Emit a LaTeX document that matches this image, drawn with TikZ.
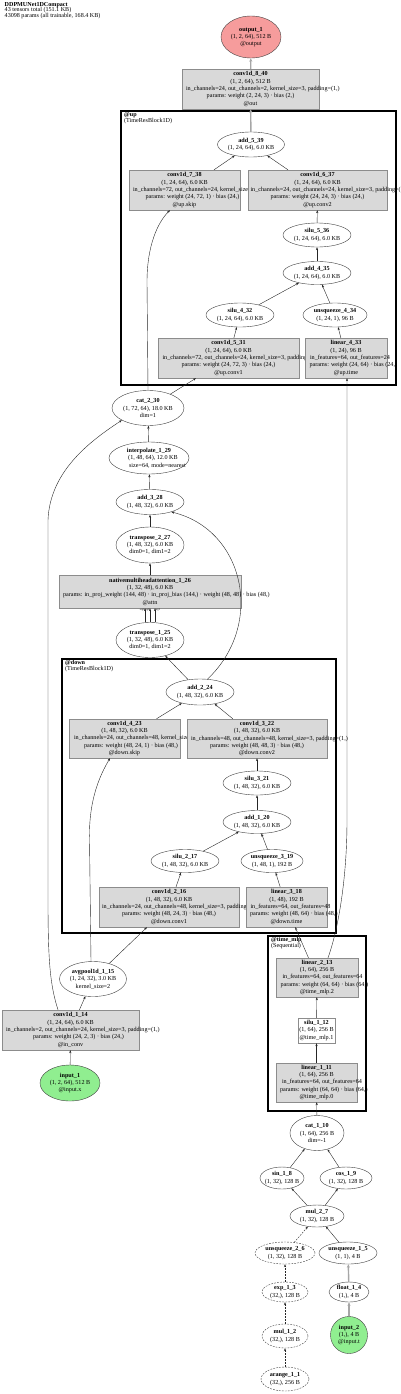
\documentclass[tikz,border=0pt]{standalone}
\usepackage{fontspec}
\setmainfont{Liberation Serif}
\usetikzlibrary{shapes.geometric,arrows.meta}
\newcommand\nf{\fontsize{6.15}{7.35}\selectfont}
\newcommand\hf{\fontsize{6.1}{5.7}\selectfont}
\newcommand\af{\fontsize{2.6}{3}\selectfont}
% line starting at a given offset from the node centre
\newcommand\lnstart[2]{\makebox[0pt][l]{\hspace*{#1pt}#2}}
% line centred at a given offset from the node centre
\newcommand\lnshift[2]{\makebox[0pt][c]{\hspace*{#1pt}\hspace*{#1pt}#2}}
\begin{document}
\begin{tikzpicture}[x=1pt,y=-1pt,
  ell/.style={ellipse, draw=black!75, line width=0.4pt, fill=white, inner sep=0pt},
  dell/.style={ell, dash pattern=on 1.8pt off 1.2pt},
  box/.style={rectangle, draw=black!45, line width=0.4pt, fill=black!15, inner sep=0pt},
  wbox/.style={box, fill=white},
  txt/.style={font=\nf, align=center, inner sep=0pt},
  arr/.style={-{Stealth[length=3pt,width=2.2pt]}, line width=0.4pt, draw=black!85},
  darr/.style={arr, dash pattern=on 1.8pt off 1.2pt},
  garr/.style={-{Stealth[length=3.5pt,width=3pt]}, line width=1.4pt, draw=black!35},
  clu/.style={draw=black, line width=1.8pt},
  clab/.style={txt, font=\hf, anchor=north west, align=left}]
\useasboundingbox (0,0) rectangle (400,1394);

% header
\node[clab] (hdr) at (4.5,2) {\textbf{DDPMUNet1DCompact}\\43 tensors total (151.1 KB)\\43098 params (all trainable, 168.4 KB)};

% clusters
\draw[clu] (121,111) rectangle (396,385);
\node[clab] (lup) at (124,112.5) {\textbf{@up}\\(TimeResBlock1D)};
\draw[clu] (62,659) rectangle (336,933);
\node[clab] (ldown) at (65,660.5) {\textbf{@down}\\(TimeResBlock1D)};
\draw[clu] (268,936) rectangle (366,1111);
\node[clab] (ltime) at (271,937.5) {\textbf{@time\_mlp}\\(Sequential)};

% ---- top
\node[ell, fill={rgb,255:red,246;green,156;blue,156}, minimum width=60pt, minimum height=42pt] (out) at (251,37) {};
\node[txt] at (out) {\textbf{output\_1}\\(1, 2, 64), 512 B\\@output};
\node[box, minimum width=137pt, minimum height=40pt] (conv8) at (250.5,89) {};
\node[txt] at (conv8) {\textbf{conv1d\_8\_40}\\(1, 2, 64), 512 B\\\lnstart{-64.5}{in\_channels=24, out\_channels=2, kernel\_size=3, padding=(1,)}\\params: weight (2, 24, 3) · bias (2,)\\@out};

% ---- up block
\node[ell, minimum width=67pt, minimum height=25pt] (add5) at (251,144.5) {};
\node[txt] at (add5) {\textbf{add\_5\_39}\\(1, 24, 64), 6.0 KB};
\node[box, minimum width=111pt, minimum height=40pt] (conv7) at (184.5,190) {};
\node[txt] at (conv7) {\textbf{conv1d\_7\_38}\\(1, 24, 64), 6.0 KB\\\lnstart{-51.5}{in\_channels=72, out\_channels=24, kernel\_size=1}\\\lnshift{8}{params: weight (24, 72, 1) · bias (24,)}\\@up.skip};
\node[box, minimum width=139pt, minimum height=40pt] (conv6) at (317.5,190) {};
\node[txt] at (conv6) {\textbf{conv1d\_6\_37}\\(1, 24, 64), 6.0 KB\\\lnstart{-67}{in\_channels=24, out\_channels=24, kernel\_size=3, padding=(1,)}\\params: weight (24, 24, 3) · bias (24,)\\@up.conv2};
\node[ell, minimum width=68pt, minimum height=24pt] (silu5) at (317,235) {};
\node[txt] at (silu5) {\textbf{silu\_5\_36}\\(1, 24, 64), 6.0 KB};
\node[ell, minimum width=68pt, minimum height=23pt] (add4) at (317,273) {};
\node[txt] at (add4) {\textbf{add\_4\_35}\\(1, 24, 64), 6.0 KB};
\node[ell, minimum width=68pt, minimum height=24pt] (silu4) at (240,315) {};
\node[txt] at (silu4) {\textbf{silu\_4\_32}\\(1, 24, 64), 6.0 KB};
\node[ell, minimum width=64pt, minimum height=24pt] (unsq4) at (335,315) {};
\node[txt] at (unsq4) {\textbf{unsqueeze\_4\_34}\\(1, 24, 1), 96 B};
\node[box, minimum width=141pt, minimum height=40pt] (conv5) at (228.5,358) {};
\node[txt] at (conv5) {\textbf{conv1d\_5\_31}\\(1, 24, 64), 6.0 KB\\\lnstart{-66}{in\_channels=72, out\_channels=24, kernel\_size=3, padding=(1,)}\\params: weight (24, 72, 3) · bias (24,)\\@up.conv1};
\node[box, minimum width=82pt, minimum height=40pt] (lin4) at (346,358) {};
\node[txt] at (lin4) {\textbf{linear\_4\_33}\\(1, 24), 96 B\\\lnstart{-36}{in\_features=64, out\_features=24}\\\lnstart{-36.5}{params: weight (24, 64) · bias (24,)}\\@up.time};

% ---- middle column
\node[ell, minimum width=72pt, minimum height=35pt] (cat2) at (148,408) {};
\node[txt] at (cat2) {\textbf{cat\_2\_30}\\(1, 72, 64), 18.0 KB\\dim=1};
\node[ell, minimum width=80pt, minimum height=32pt] (interp) at (149,458) {};
\node[txt] at (interp) {\textbf{interpolate\_1\_29}\\\lnshift{4}{(1, 48, 64), 12.0 KB}\\\lnstart{-20}{size=64, mode=nearest}};
\node[ell, minimum width=68pt, minimum height=25pt] (add3) at (150,502) {};
\node[txt] at (add3) {\textbf{add\_3\_28}\\(1, 48, 32), 6.0 KB};
\node[ell, minimum width=68pt, minimum height=36pt] (tr2) at (150,545) {};
\node[txt] at (tr2) {\textbf{transpose\_2\_27}\\(1, 48, 32), 6.0 KB\\dim0=1, dim1=2};
\node[box, minimum width=182pt, minimum height=33pt] (attn) at (150,591.5) {};
\node[txt] at (attn) {\textbf{nativemultiheadattention\_1\_26}\\(1, 32, 48), 6.0 KB\\\lnstart{-87}{params: in\_proj\_weight (144, 48) · in\_proj\_bias (144,) · weight (48, 48) · bias (48,)}\\@attn};
\node[ell, minimum width=68pt, minimum height=35pt] (tr1) at (150,640) {};
\node[txt] at (tr1) {\textbf{transpose\_1\_25}\\(1, 32, 48), 6.0 KB\\dim0=1, dim1=2};

% ---- down block
\node[ell, minimum width=68pt, minimum height=26pt] (add2) at (200,692) {};
\node[txt] at (add2) {\textbf{add\_2\_24}\\(1, 48, 32), 6.0 KB};
\node[box, minimum width=111pt, minimum height=39pt] (conv4) at (124.5,738.5) {};
\node[txt] at (conv4) {\textbf{conv1d\_4\_23}\\(1, 48, 32), 6.0 KB\\\lnstart{-50.5}{in\_channels=24, out\_channels=48, kernel\_size=1}\\\lnshift{6.5}{params: weight (48, 24, 1) · bias (48,)}\\@down.skip};
\node[box, minimum width=140pt, minimum height=39pt] (conv3) at (257,738.5) {};
\node[txt] at (conv3) {\textbf{conv1d\_3\_22}\\(1, 48, 32), 6.0 KB\\\lnstart{-66}{in\_channels=48, out\_channels=48, kernel\_size=3, padding=(1,)}\\params: weight (48, 48, 3) · bias (48,)\\@down.conv2};
\node[ell, minimum width=68pt, minimum height=24pt] (silu3) at (257,783) {};
\node[txt] at (silu3) {\textbf{silu\_3\_21}\\(1, 48, 32), 6.0 KB};
\node[ell, minimum width=68pt, minimum height=23pt] (add1) at (257,822) {};
\node[txt] at (add1) {\textbf{add\_1\_20}\\(1, 48, 32), 6.0 KB};
\node[ell, minimum width=68pt, minimum height=23pt] (silu2) at (185,861) {};
\node[txt] at (silu2) {\textbf{silu\_2\_17}\\(1, 48, 32), 6.0 KB};
\node[ell, minimum width=62pt, minimum height=23pt] (unsq3) at (272,861) {};
\node[txt] at (unsq3) {\textbf{unsqueeze\_3\_19}\\(1, 48, 1), 192 B};
\node[box, minimum width=140pt, minimum height=40pt] (conv2) at (169,907) {};
\node[txt] at (conv2) {\textbf{conv1d\_2\_16}\\(1, 48, 32), 6.0 KB\\\lnstart{-67}{in\_channels=24, out\_channels=48, kernel\_size=3, padding=(1,)}\\params: weight (48, 24, 3) · bias (48,)\\@down.conv1};
\node[box, minimum width=81pt, minimum height=40pt] (lin3) at (286.5,907) {};
\node[txt] at (lin3) {\textbf{linear\_3\_18}\\(1, 48), 192 B\\\lnstart{-36}{in\_features=64, out\_features=48}\\\lnstart{-36.5}{params: weight (48, 64) · bias (48,)}\\@down.time};

% ---- input x side
\node[ell, minimum width=67pt, minimum height=35pt] (pool) at (93,979) {};
\node[txt] at (pool) {\textbf{avgpool1d\_1\_15}\\(1, 24, 32), 3.0 KB\\kernel\_size=2};
\node[box, minimum width=137pt, minimum height=40pt] (conv1) at (70.5,1030) {};
\node[txt] at (conv1) {\textbf{conv1d\_1\_14}\\(1, 24, 64), 6.0 KB\\\lnstart{-64.5}{in\_channels=2, out\_channels=24, kernel\_size=3, padding=(1,)}\\\lnshift{8}{params: weight (24, 2, 3) · bias (24,)}\\@in\_conv};
\node[ell, fill={rgb,255:red,144;green,238;blue,144}, minimum width=60pt, minimum height=36pt] (in1) at (70,1083) {};
\node[txt] at (in1) {\textbf{input\_1}\\(1, 2, 64), 512 B\\@input.x};

% ---- time mlp
\node[box, minimum width=82pt, minimum height=39pt] (lin2) at (317,977.5) {};
\node[txt] at (lin2) {\textbf{linear\_2\_13}\\(1, 64), 256 B\\\lnstart{-34.5}{in\_features=64, out\_features=64}\\\lnstart{-36.5}{params: weight (64, 64) · bias (64,)}\\@time\_mlp.2};
\node[wbox, minimum width=37pt, minimum height=25pt] (silu1) at (316.5,1030.5) {};
\node[txt] at (silu1) {\textbf{silu\_1\_12}\\(1, 64), 256 B\\@time\_mlp.1};
\node[box, minimum width=81pt, minimum height=39pt] (lin1) at (316.5,1082.5) {};
\node[txt] at (lin1) {\textbf{linear\_1\_11}\\(1, 64), 256 B\\\lnstart{-34.5}{in\_features=64, out\_features=64}\\\lnstart{-36.5}{params: weight (64, 64) · bias (64,)}\\@time\_mlp.0};

% ---- time embedding
\node[ell, minimum width=54pt, minimum height=35pt] (cat1) at (317,1133) {};
\node[txt] at (cat1) {\textbf{cat\_1\_10}\\(1, 64), 256 B\\dim=-1};
\node[ell, minimum width=44pt, minimum height=22pt] (sin) at (282,1178) {};
\node[txt] at (sin) {\textbf{sin\_1\_8}\\(1, 32), 128 B};
\node[ell, minimum width=52pt, minimum height=22pt] (cos) at (346,1178) {};
\node[txt] at (cos) {\textbf{cos\_1\_9}\\(1, 32), 128 B};
\node[ell, minimum width=54pt, minimum height=22pt] (mul2) at (317,1216) {};
\node[txt] at (mul2) {\textbf{mul\_2\_7}\\(1, 32), 128 B};
\node[dell, minimum width=60pt, minimum height=22pt] (unsq2) at (285,1253) {};
\node[txt] at (unsq2) {\textbf{unsqueeze\_2\_6}\\(1, 32), 128 B};
\node[ell, minimum width=58pt, minimum height=22pt] (unsq1) at (348,1253) {};
\node[txt] at (unsq1) {\textbf{unsqueeze\_1\_5}\\(1, 1), 4 B};
\node[dell, minimum width=46pt, minimum height=20pt] (exp) at (285,1292) {};
\node[txt] at (exp) {\textbf{exp\_1\_3}\\(32,), 128 B};
\node[ell, minimum width=40pt, minimum height=20pt] (flt) at (349,1292) {};
\node[txt] at (flt) {\textbf{float\_1\_4}\\(1,), 4 B};
\node[dell, minimum width=46pt, minimum height=24pt] (mul1) at (285,1336) {};
\node[txt] at (mul1) {\textbf{mul\_1\_2}\\(32,), 128 B};
\node[circle, draw=black!75, line width=0.4pt, inner sep=0pt, fill={rgb,255:red,144;green,238;blue,144}, minimum size=37pt] (in2) at (349,1335) {};
\node[txt] at (in2) {\textbf{input\_2}\\(1,), 4 B\\@input.t};
\node[dell, minimum width=48pt, minimum height=24pt] (ar) at (285,1379) {};
\node[txt] at (ar) {\textbf{arange\_1\_1}\\(32,), 256 B};

% ================= edges
\draw[garr] (conv8) -- (out);
\draw[garr] (add5) -- (conv8);
\draw[arr] (conv7) -- (add5);
\draw[arr] (conv6) -- (add5);
\draw[arr] (silu5) -- (conv6);
\draw[arr] (add4) -- (silu5);
\draw[arr] (silu4) -- (add4);
\draw[arr] (unsq4) -- (add4);
\draw[arr] (conv5) -- (silu4);
\draw[arr] (lin4) -- (unsq4);
\draw[arr] (cat2) -- (conv5);
\draw[arr] (cat2.north) -- (147,282) .. controls (147,245) and (158,222) .. ([xshift=-14.5pt]conv7.south);
\draw[arr] (interp) -- (cat2);
\draw[arr] (add3) -- (interp);
\draw[arr] (tr2) -- (add3);
\draw[arr] (attn) -- (tr2);
\draw[arr] ([xshift=-5pt]tr1.north) -- ([xshift=-5pt]attn.south) node[pos=1, anchor=north east, font=\af, inner sep=0.3pt] {arg1};
\draw[arr] (tr1.north) -- (attn.south) node[pos=1, anchor=north east, font=\af, inner sep=0.3pt] {arg0};
\draw[arr] ([xshift=5pt]tr1.north) -- ([xshift=5pt]attn.south) node[pos=1, anchor=north west, font=\af, inner sep=0.3pt] {arg2};
\draw[arr] (add2) -- (tr1);
\draw[arr] (add2.60) .. controls (265,625) and (245,530) .. (add3.335);
\draw[arr] (conv4) -- (add2);
\draw[arr] (conv3) -- (add2);
\draw[arr] (silu3) -- (conv3);
\draw[arr] (add1) -- (silu3);
\draw[arr] (silu2) -- (add1);
\draw[arr] (unsq3) -- (add1);
\draw[arr] (conv2) -- (silu2);
\draw[arr] (lin3) -- (unsq3);
\draw[arr] (pool) -- ([xshift=-22pt]conv2.south);
\draw[arr] ([xshift=-2pt]pool.north) -- (89.5,840) .. controls (88.5,800) and (100,775) .. ([xshift=-14.5pt]conv4.south);
\draw[arr] (conv1) -- (pool);
\draw[arr] ([xshift=-12.5pt]conv1.north) .. controls (50,985) and (48,960) .. (48,900) -- (48,520) .. controls (50,470) and (92,440) .. (cat2.205);
\draw[arr] (in1) -- (conv1);
\draw[arr] (lin2) -- (lin3);
\draw[arr] ([xshift=11pt]lin2.north) .. controls (338,930) and (347,880) .. (347,820) -- ([xshift=1pt]lin4.south);
\draw[arr] (silu1) -- (lin2);
\draw[arr] (lin1) -- (silu1);
\draw[arr] (cat1) -- (lin1);
\draw[arr] (sin) -- (cat1);
\draw[arr] (cos) -- (cat1);
\draw[arr] (mul2) -- (sin);
\draw[arr] (mul2) -- (cos);
\draw[darr] (unsq2) -- (mul2);
\draw[arr] (unsq1) -- (mul2);
\draw[darr] (exp) -- (unsq2);
\draw[darr] (mul1) -- (exp);
\draw[darr] (ar) -- (mul1);
\draw[garr] (flt) -- (unsq1);
\draw[garr] (in2) -- (flt);
\end{tikzpicture}
\end{document}
